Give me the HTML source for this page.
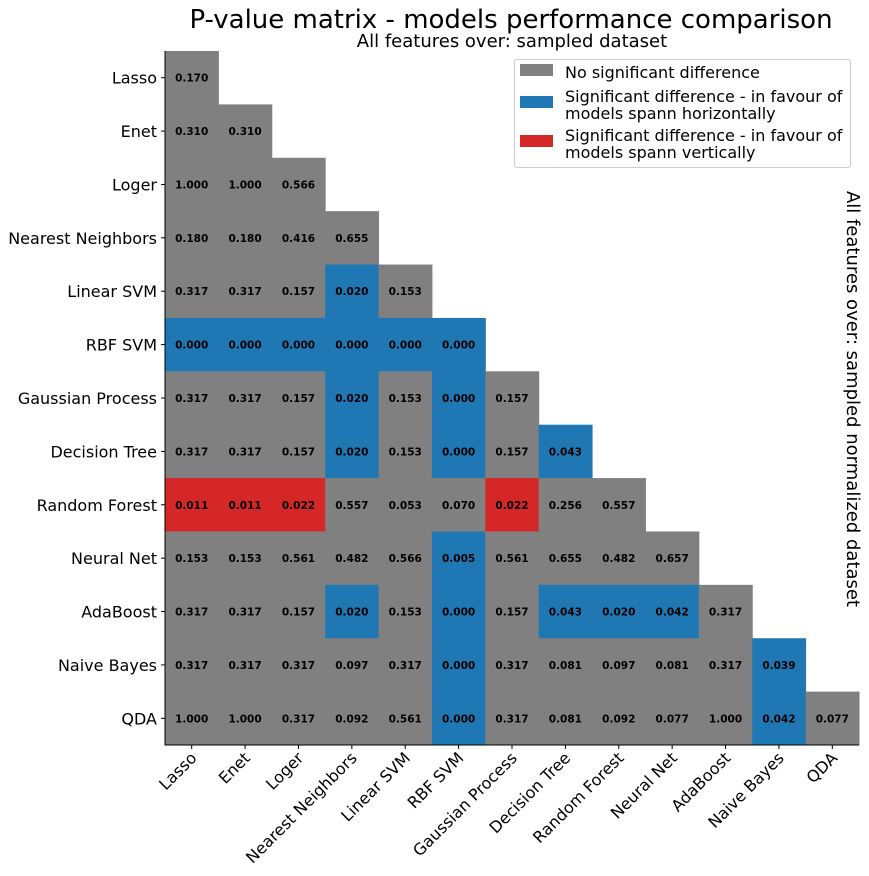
<!DOCTYPE html>
<html><head><meta charset="utf-8"><style>body{margin:0;background:#fff}svg{display:block;font-family:"DejaVu Sans","Liberation Sans",sans-serif}</style></head>
<body>
<svg id="chart" width="869" height="876"></svg>
<script>
const models=["Lasso","Enet","Loger","Nearest Neighbors","Linear SVM","RBF SVM","Gaussian Process","Decision Tree","Random Forest","Neural Net","AdaBoost","Naive Bayes","QDA"];
const pvalues=[
[0.170],
[0.310,0.310],
[1.000,1.000,0.566],
[0.180,0.180,0.416,0.655],
[0.317,0.317,0.157,0.020,0.153],
[0.000,0.000,0.000,0.000,0.000,0.000],
[0.317,0.317,0.157,0.020,0.153,0.000,0.157],
[0.317,0.317,0.157,0.020,0.153,0.000,0.157,0.043],
[0.011,0.011,0.022,0.557,0.053,0.070,0.022,0.256,0.557],
[0.153,0.153,0.561,0.482,0.566,0.005,0.561,0.655,0.482,0.657],
[0.317,0.317,0.157,0.020,0.153,0.000,0.157,0.043,0.020,0.042,0.317],
[0.317,0.317,0.317,0.097,0.317,0.000,0.317,0.081,0.097,0.081,0.317,0.039],
[1.000,1.000,0.317,0.092,0.561,0.000,0.317,0.081,0.092,0.077,1.000,0.042,0.077]];
const favour=[
[0],[0,0],[0,0,0],[0,0,0,0],[0,0,0,1,0],[1,1,1,1,1,1],[0,0,0,1,0,1,0],[0,0,0,1,0,1,0,1],
[2,2,2,0,0,0,2,0,0],[0,0,0,0,0,1,0,0,0,0],[0,0,0,1,0,1,0,1,1,1,0],[0,0,0,0,0,1,0,0,0,0,0,1],[0,0,0,0,0,1,0,0,0,0,0,1,0]];
const legendLabels=[["No significant difference"],["Significant difference - in favour of","models spann horizontally"],["Significant difference - in favour of","models spann vertically"]];
const colors=["#808080","#1f77b4","#d62728"];
const NS="http://www.w3.org/2000/svg",svg=document.getElementById("chart");
const X0=165,X1=859,Y0=51,Y1=745,n=models.length,cw=(X1-X0)/n,ch=(Y1-Y0)/n;
const xs=i=>X0+i*cw, ys=i=>Y0+i*ch;
function mk(t,a,p){const e=document.createElementNS(NS,t);for(const k in a)e.setAttribute(k,a[k]);(p||svg).appendChild(e);return e;}
pvalues.forEach((row,r)=>row.forEach((v,c)=>{
 const rc=mk("rect",{x:xs(c),y:ys(r),width:cw+0.5,height:ch+0.5,fill:colors[favour[r][c]]});
 
 
 const t=mk("text",{x:xs(c)+cw/2,y:ys(r)+ch/2+4,"text-anchor":"middle","font-size":"10.5","font-weight":"bold",fill:"#000"});
 t.textContent=v.toFixed(3);
 
 
}));
const ax=mk("path",{d:`M${X0} ${Y0}V${Y1}H${X1}`,stroke:"#000",fill:"none","stroke-width":"1"});


models.forEach((m,i)=>{
 const cy=ys(i)+ch/2, cx=xs(i)+cw/2;
 mk("line",{x1:X0-4,x2:X0,y1:cy,y2:cy,stroke:"#000"});
 mk("line",{x1:cx,x2:cx,y1:Y1,y2:Y1+4,stroke:"#000"});
 const yl=mk("text",{x:X0-8,y:cy+6,"text-anchor":"end","font-size":"16"});yl.textContent=m;
 
 
 const xl=mk("text",{x:0,y:0,"text-anchor":"end","font-size":"16",transform:`translate(${cx+6},${Y1+14}) rotate(-45)`});xl.textContent=m;
 
 
});
const ti=mk("text",{x:511,y:28,"text-anchor":"middle","font-size":"26"});ti.textContent="P-value matrix - models performance comparison";

const st=mk("text",{x:512,y:47,"text-anchor":"middle","font-size":"18"});st.textContent="All features over: sampled dataset";

const rl=mk("text",{x:0,y:0,"text-anchor":"middle","font-size":"18",transform:"translate(847,399) rotate(90)"});rl.textContent="All features over: sampled normalized dataset";

const lg=mk("g",{});

mk("rect",{x:514.5,y:59.5,width:336,height:108,rx:3,fill:"#fff",stroke:"#ccc"},lg);
const ly=[72,104,143];
legendLabels.forEach((lbl,i)=>{
 const sw=mk("rect",{x:520,y:ly[i]-8,width:33,height:12,fill:colors[i]},lg);
 
 lbl.forEach((s,j)=>{const t=mk("text",{x:565,y:ly[i]+6-(lbl.length-1)*8+j*17,"font-size":"16"},lg);t.textContent=s;
 });
});
</script>
</body></html>
